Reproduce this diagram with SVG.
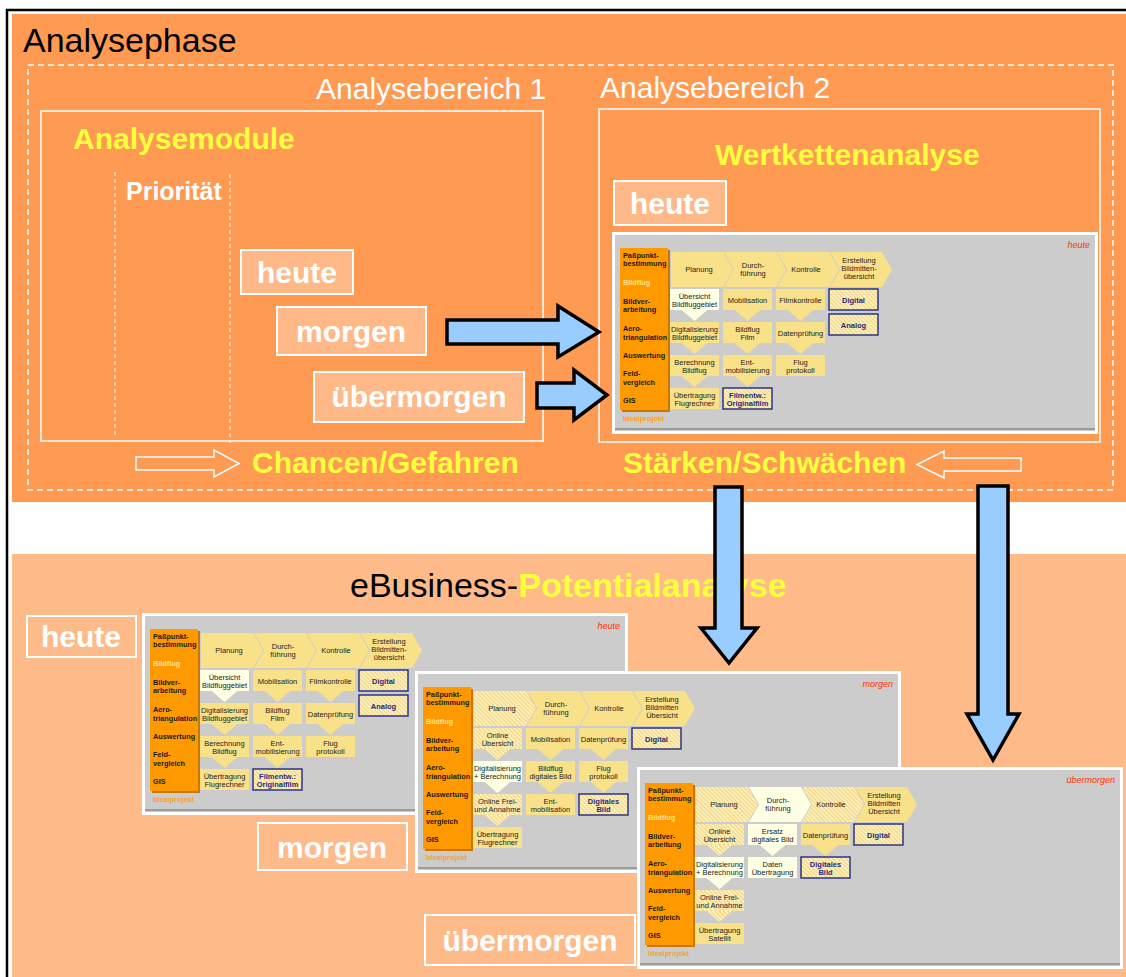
<svg xmlns="http://www.w3.org/2000/svg" width="1126" height="977" viewBox="0 0 1126 977">
<style>
text{font-family:"Liberation Sans",Arial,Helvetica,sans-serif}
.h1{font-size:34px;fill:#000}
.area{font-size:30px;fill:#fff}
.ttl{font-size:30px;font-weight:bold;fill:#FFFF40}
.prio{font-size:25px;font-weight:bold;fill:#fff}
.tag{font-size:30px;font-weight:bold;fill:#fff;text-anchor:middle}
.tagbox{fill:#FFB988;stroke:#fff;stroke-width:2}
.tagline{fill:none;stroke:#fff;stroke-width:2}
.frame{fill:none;stroke:#fff;stroke-width:1.5}
.dash{fill:none;stroke:#fff;stroke-width:1.5;stroke-dasharray:6 4}
.dot{fill:none;stroke:#fff;stroke-width:1;stroke-dasharray:4 3}
.blue{fill:#99CCFF;stroke:#000;stroke-width:3.5;stroke-linejoin:miter}
.hollow{fill:none;stroke:#fff;stroke-width:1.5}
.oc{font-size:7.3px;font-weight:bold;fill:#1a1a1a}
.bx{font-size:7.5px;fill:#222;text-anchor:middle}
.nv{font-size:7.5px;font-weight:bold;fill:#1F2A80;text-anchor:middle}
.yl{fill:#F9E18A}
.cr{fill:#FFFFE3}
.ht{fill:url(#hatch)}
.nb{fill:url(#hatch);stroke:#1F2A80;stroke-width:1.4}
.stamp{font-size:9px;font-style:italic;fill:#FF3300;text-anchor:end}
</style>
<defs>
  <pattern id="hatch" width="3" height="3" patternUnits="userSpaceOnUse" patternTransform="rotate(-45)">
    <rect width="3" height="3" fill="#FCEFBC"/>
    <rect width="1" height="3" fill="#F0D37E"/>
  </pattern>
  <polygon id="chev0" points="0,0 52,0 62,17.5 52,35 0,35"/>
  <polygon id="chev" points="0,0 52,0 62,17.5 52,35 0,35 10,17.5"/>
  <rect id="bx" width="49" height="21"/>
  <polygon id="da" points="0,-1 28,-1 14,11"/>

  <!-- common frame of a value-chain sheet: gray sheet, orange process column -->
  <g id="pbase">
    <rect width="486" height="202" fill="#fff"/>
    <rect x="3" y="3" width="480" height="196" fill="#CCCCCC"/>
    <rect x="3" y="196" width="480" height="2" fill="#9C9C9C"/>
    <rect x="10" y="18" width="48" height="162" fill="#C87800"/>
    <rect x="8" y="16" width="48" height="162" fill="#FF9900"/>
    <text class="oc" x="11" y="25.5">Paßpunkt-</text>
    <text class="oc" x="11" y="33.5">bestimmung</text>
    <text class="oc" x="11" y="52.5" style="fill:#FFE38A">Bildflug</text>
    <text class="oc" x="11" y="71.5">Bildver-</text>
    <text class="oc" x="11" y="79.5">arbeitung</text>
    <text class="oc" x="11" y="98.5">Aero-</text>
    <text class="oc" x="11" y="107.5">triangulation</text>
    <text class="oc" x="11" y="125.5">Auswertung</text>
    <text class="oc" x="11" y="143.5">Feld-</text>
    <text class="oc" x="11" y="152.5">vergleich</text>
    <text class="oc" x="11" y="170.5">GIS</text>
    <text class="oc" x="11" y="189" style="fill:#FF9F1C">Idealprojekt</text>
  </g>

  <!-- value chain, current state -->
  <g id="cHeute">
    <use href="#chev0" x="59" y="20" class="yl"/>
    <use href="#chev" x="112" y="20" class="yl"/>
    <use href="#chev" x="165" y="20" class="yl"/>
    <use href="#chev" x="218" y="20" class="yl"/>
    <text class="bx" x="87" y="40">Planung</text>
    <text class="bx" x="141" y="36">Durch-</text>
    <text class="bx" x="141" y="44">führung</text>
    <text class="bx" x="194" y="40">Kontrolle</text>
    <text class="bx" x="247" y="31">Erstellung</text>
    <text class="bx" x="247" y="39">Bildmitten-</text>
    <text class="bx" x="247" y="47">übersicht</text>

    <use href="#da" x="68.5" y="78" class="cr"/>
    <use href="#da" x="68.5" y="111" class="yl"/>
    <use href="#da" x="68.5" y="144" class="yl"/>
    <use href="#da" x="121.5" y="78" class="yl"/>
    <use href="#da" x="121.5" y="111" class="yl"/>
    <use href="#da" x="121.5" y="144" class="yl"/>
    <use href="#da" x="174.5" y="78" class="yl"/>
    <use href="#da" x="174.5" y="111" class="yl"/>

    <use href="#bx" x="58" y="57" class="cr"/>
    <use href="#bx" x="58" y="90" class="yl"/>
    <use href="#bx" x="58" y="123" class="yl"/>
    <use href="#bx" x="58" y="156" class="yl"/>
    <use href="#bx" x="111" y="57" class="yl"/>
    <use href="#bx" x="111" y="90" class="yl"/>
    <use href="#bx" x="111" y="123" class="yl"/>
    <use href="#bx" x="111" y="156" class="nb"/>
    <use href="#bx" x="164" y="57" class="yl"/>
    <use href="#bx" x="164" y="90" class="yl"/>
    <use href="#bx" x="164" y="123" class="yl"/>
    <use href="#bx" x="217" y="57" class="nb"/>
    <use href="#bx" x="217" y="82" class="nb"/>

    <text class="bx" x="82.5" y="66.5">Übersicht</text>
    <text class="bx" x="82.5" y="74.5">Bildfluggebiet</text>
    <text class="bx" x="82.5" y="99.5">Digitalisierung</text>
    <text class="bx" x="82.5" y="107.5">Bildfluggebiet</text>
    <text class="bx" x="82.5" y="132.5">Berechnung</text>
    <text class="bx" x="82.5" y="140.5">Bildflug</text>
    <text class="bx" x="82.5" y="165.5">Übertragung</text>
    <text class="bx" x="82.5" y="173.5">Flugrechner</text>
    <text class="bx" x="135.5" y="70.5">Mobilisation</text>
    <text class="bx" x="135.5" y="99.5">Bildflug</text>
    <text class="bx" x="135.5" y="107.5">Film</text>
    <text class="bx" x="135.5" y="132.5">Ent-</text>
    <text class="bx" x="135.5" y="140.5">mobilisierung</text>
    <text class="nv" x="135.5" y="165.5">Filmentw.:</text>
    <text class="nv" x="135.5" y="173.5">Originalfilm</text>
    <text class="bx" x="188.5" y="70.5">Filmkontrolle</text>
    <text class="bx" x="188.5" y="103.5">Datenprüfung</text>
    <text class="bx" x="188.5" y="132.5">Flug</text>
    <text class="bx" x="188.5" y="140.5">protokoll</text>
    <text class="nv" x="241.5" y="70.5">Digital</text>
    <text class="nv" x="241.5" y="95.5">Analog</text>
    <text class="stamp" x="478" y="16">heute</text>
  </g>
</defs>

<!-- page frame -->
<rect width="1126" height="977" fill="#fff"/>
<path d="M7,977 V10 H1126" fill="none" stroke="#000" stroke-width="2.5"/>

<!-- analysis phase -->
<g id="analysephase">
  <rect x="12" y="14" width="1114" height="488" fill="#FF9A52"/>
  <text class="h1" x="23" y="52">Analysephase</text>
  <rect class="dash" x="28" y="65" width="1085" height="425"/>
</g>

<g id="analysebereich-1">
  <text class="area" x="316" y="99">Analysebereich 1</text>
  <rect class="frame" x="41" y="111" width="502" height="330"/>
  <text class="ttl" x="73" y="149">Analysemodule</text>
  <line class="dot" x1="115" y1="172" x2="115" y2="437"/>
  <line class="dot" x1="230" y1="174" x2="230" y2="443"/>
  <text class="prio" x="126" y="200">Priorität</text>
</g>

<g id="modul-heute">
  <rect class="tagbox" x="241" y="250" width="112" height="44"/>
  <text class="tag" x="297" y="283">heute</text>
</g>
<g id="modul-morgen">
  <rect class="tagbox" x="277" y="307" width="149" height="48"/>
  <text class="tag" x="351" y="342">morgen</text>
</g>
<g id="modul-uebermorgen">
  <rect class="tagbox" x="314" y="372" width="210" height="50"/>
  <text class="tag" x="419" y="407">übermorgen</text>
</g>

<g id="chancen-gefahren">
  <text class="ttl" x="252" y="473">Chancen/Gefahren</text>
</g>

<g id="analysebereich-2">
  <text class="area" x="600" y="98">Analysebereich 2</text>
  <rect class="frame" x="599" y="109" width="501" height="333"/>
  <text class="ttl" x="715" y="165">Wertkettenanalyse</text>
  <rect class="tagbox" x="614" y="181" width="112" height="44"/>
  <text class="tag" x="670" y="214">heute</text>
</g>

<g id="wertkette-heute" transform="translate(612,232)">
  <use href="#pbase"/>
  <use href="#cHeute"/>
</g>

<g id="staerken-schwaechen">
  <text class="ttl" x="623" y="473">Stärken/Schwächen</text>
</g>

<!-- eBusiness potential analysis -->
<g id="potentialanalyse">
  <rect x="12" y="554" width="1114" height="423" fill="#FFBA8A"/>
  <text x="350" y="597" style="font-size:34px"><tspan fill="#000">eBusiness-</tspan><tspan fill="#FFFF40" font-weight="bold">Potentialanalyse</tspan></text>
</g>

<g id="potential-heute">
  <rect class="tagline" x="27" y="616" width="109" height="41"/>
  <text class="tag" x="81" y="647">heute</text>
  <g transform="translate(142,613)">
    <use href="#pbase"/>
    <use href="#cHeute"/>
  </g>
</g>

<g id="potential-morgen">
  <rect class="tagline" x="258" y="823" width="149" height="47"/>
  <text class="tag" x="332" y="858">morgen</text>
  <g transform="translate(415,671)">
    <use href="#pbase"/>
    <use href="#chev0" x="59" y="20" class="ht"/>
    <use href="#chev" x="112" y="20" class="yl"/>
    <use href="#chev" x="165" y="20" class="yl"/>
    <use href="#chev" x="218" y="20" class="yl"/>
    <text class="bx" x="87" y="40">Planung</text>
    <text class="bx" x="141" y="36">Durch-</text>
    <text class="bx" x="141" y="44">führung</text>
    <text class="bx" x="194" y="40">Kontrolle</text>
    <text class="bx" x="247" y="31">Erstellung</text>
    <text class="bx" x="247" y="39">Bildmitten</text>
    <text class="bx" x="247" y="47">Übersicht</text>

    <use href="#da" x="68.5" y="78" class="ht"/>
    <use href="#da" x="68.5" y="111" class="cr"/>
    <use href="#da" x="68.5" y="144" class="ht"/>
    <use href="#da" x="121.5" y="78" class="yl"/>
    <use href="#da" x="121.5" y="111" class="yl"/>
    <use href="#da" x="174.5" y="78" class="yl"/>
    <use href="#da" x="174.5" y="111" class="yl"/>

    <use href="#bx" x="58" y="57" class="ht"/>
    <use href="#bx" x="58" y="90" class="cr"/>
    <use href="#bx" x="58" y="123" class="ht"/>
    <use href="#bx" x="58" y="156" class="yl"/>
    <use href="#bx" x="111" y="57" class="yl"/>
    <use href="#bx" x="111" y="90" class="yl"/>
    <use href="#bx" x="111" y="123" class="yl"/>
    <use href="#bx" x="164" y="57" class="yl"/>
    <use href="#bx" x="164" y="90" class="yl"/>
    <use href="#bx" x="164" y="123" class="nb"/>
    <use href="#bx" x="217" y="57" class="nb"/>

    <text class="bx" x="82.5" y="66.5">Online</text>
    <text class="bx" x="82.5" y="74.5">Übersicht</text>
    <text class="bx" x="82.5" y="99.5">Digitalisierung</text>
    <text class="bx" x="82.5" y="107.5">+ Berechnung</text>
    <text class="bx" x="82.5" y="132.5">Online Frei-</text>
    <text class="bx" x="82.5" y="140.5">und Annahme</text>
    <text class="bx" x="82.5" y="165.5">Übertragung</text>
    <text class="bx" x="82.5" y="173.5">Flugrechner</text>
    <text class="bx" x="135.5" y="70.5">Mobilisation</text>
    <text class="bx" x="135.5" y="99.5">Bildflug</text>
    <text class="bx" x="135.5" y="107.5">digitales Bild</text>
    <text class="bx" x="135.5" y="132.5">Ent-</text>
    <text class="bx" x="135.5" y="140.5">mobilisation</text>
    <text class="bx" x="188.5" y="70.5">Datenprüfung</text>
    <text class="bx" x="188.5" y="99.5">Flug</text>
    <text class="bx" x="188.5" y="107.5">protokoll</text>
    <text class="nv" x="188.5" y="132.5">Digitales</text>
    <text class="nv" x="188.5" y="140.5">Bild</text>
    <text class="nv" x="241.5" y="70.5">Digital</text>
    <text class="stamp" x="478" y="16">morgen</text>
  </g>
</g>

<g id="potential-uebermorgen">
  <rect class="tagline" x="425" y="915" width="210" height="50"/>
  <text class="tag" x="530" y="951">übermorgen</text>
  <g transform="translate(637,767)">
    <use href="#pbase"/>
    <use href="#chev0" x="59" y="20" class="ht"/>
    <use href="#chev" x="112" y="20" class="cr"/>
    <use href="#chev" x="165" y="20" class="ht"/>
    <use href="#chev" x="218" y="20" class="yl"/>
    <text class="bx" x="87" y="40">Planung</text>
    <text class="bx" x="141" y="36">Durch-</text>
    <text class="bx" x="141" y="44">führung</text>
    <text class="bx" x="194" y="40">Kontrolle</text>
    <text class="bx" x="247" y="31">Erstellung</text>
    <text class="bx" x="247" y="39">Bildmitten</text>
    <text class="bx" x="247" y="47">Übersicht</text>

    <use href="#da" x="68.5" y="78" class="ht"/>
    <use href="#da" x="68.5" y="111" class="cr"/>
    <use href="#da" x="68.5" y="144" class="ht"/>
    <use href="#da" x="121.5" y="78" class="cr"/>
    <use href="#da" x="174.5" y="78" class="yl"/>

    <use href="#bx" x="58" y="57" class="ht"/>
    <use href="#bx" x="58" y="90" class="cr"/>
    <use href="#bx" x="58" y="123" class="ht"/>
    <use href="#bx" x="58" y="156" class="yl"/>
    <use href="#bx" x="111" y="57" class="cr"/>
    <use href="#bx" x="111" y="90" class="cr"/>
    <use href="#bx" x="164" y="57" class="yl"/>
    <use href="#bx" x="164" y="90" class="nb"/>
    <use href="#bx" x="217" y="57" class="nb"/>

    <text class="bx" x="82.5" y="66.5">Online</text>
    <text class="bx" x="82.5" y="74.5">Übersicht</text>
    <text class="bx" x="82.5" y="99.5">Digitalisierung</text>
    <text class="bx" x="82.5" y="107.5">+ Berechnung</text>
    <text class="bx" x="82.5" y="132.5">Online Frei-</text>
    <text class="bx" x="82.5" y="140.5">und Annahme</text>
    <text class="bx" x="82.5" y="165.5">Übertragung</text>
    <text class="bx" x="82.5" y="173.5">Satellit</text>
    <text class="bx" x="135.5" y="66.5">Ersatz</text>
    <text class="bx" x="135.5" y="74.5">digitales Bild</text>
    <text class="bx" x="135.5" y="99.5">Daten</text>
    <text class="bx" x="135.5" y="107.5">Übertragung</text>
    <text class="bx" x="188.5" y="70.5">Datenprüfung</text>
    <text class="nv" x="188.5" y="99.5">Digitales</text>
    <text class="nv" x="188.5" y="107.5">Bild</text>
    <text class="nv" x="241.5" y="70.5">Digital</text>
    <text class="stamp" x="478" y="16">übermorgen</text>
  </g>
</g>

<!-- connectors -->
<g id="connectors">
  <polygon class="hollow" points="136,457 214,457 214,450 239,463.5 214,477 214,470 136,470"/>
  <polygon class="hollow" points="1021,458 944,458 944,451 917,464.5 944,478 944,471 1021,471"/>
  <polygon class="blue" points="447,320 558,320 558,306 599,332 558,357 558,344 447,344"/>
  <polygon class="blue" points="537,383 574,383 574,370 607,395 574,420 574,408 537,408"/>
  <polygon class="blue" points="715,487 742,487 742,628 757,628 729,663 701,628 715,628"/>
  <polygon class="blue" points="978,486 1008,486 1008,714 1019,714 993,760 967,714 978,714"/>
</g>
</svg>
